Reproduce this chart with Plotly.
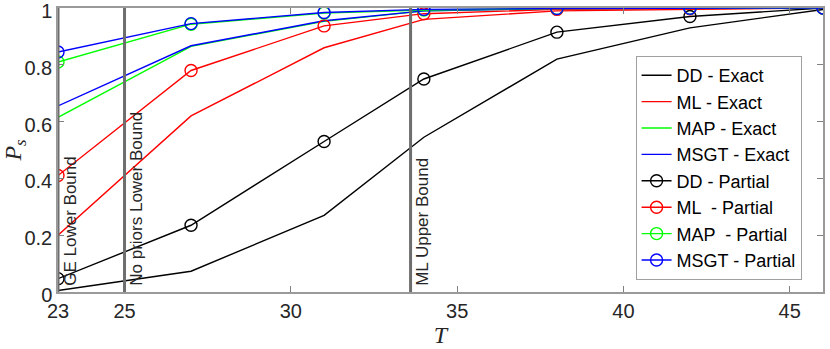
import plotly.graph_objects as go

T = [23, 27, 31, 34, 38, 42, 46]

dd_exact = [0.005, 0.073, 0.27, 0.545, 0.82, 0.93, 0.995]
ml_exact = [0.20, 0.62, 0.86, 0.96, 0.99, 0.995, 1.0]
map_exact = [0.615, 0.865, 0.953, 0.99, 0.998, 0.999, 1.0]
msgt_exact = [0.655, 0.867, 0.955, 0.99, 0.998, 0.999, 1.0]

dd_partial = [0.047, 0.235, 0.53, 0.75, 0.915, 0.97, 1.0]
ml_partial = [0.41, 0.78, 0.937, 0.98, 0.995, 0.997, 1.0]
map_partial = [0.81, 0.943, 0.982, 0.993, 0.998, 0.999, 1.0]
msgt_partial = [0.845, 0.945, 0.984, 0.995, 0.998, 0.999, 1.0]

bound_x = [23, 25, 33.6]
bound_labels = ["GE Lower Bound", "No priors Lower Bound", "ML Upper Bound"]

FONT = "Liberation Sans, Arial, sans-serif"

fig = go.Figure()

exact = [("DD - Exact", dd_exact, "black"), ("ML - Exact", ml_exact, "#ff0000"),
         ("MAP - Exact", map_exact, "#00ff00"), ("MSGT - Exact", msgt_exact, "#0000ff")]
partial = [("DD - Partial", dd_partial, "black"), ("ML  - Partial", ml_partial, "#ff0000"),
           ("MAP  - Partial", map_partial, "#00ff00"), ("MSGT - Partial", msgt_partial, "#0000ff")]

for name, vals, col in exact:
    fig.add_trace(go.Scatter(x=T, y=vals, mode="lines", name=name,
                             line=dict(color=col, width=1.4)))
for name, vals, col in partial:
    fig.add_trace(go.Scatter(x=T, y=vals, mode="lines+markers", name=name,
                             line=dict(color=col, width=1.4),
                             marker=dict(symbol="circle-open", size=12, color=col,
                                         line=dict(width=1.4, color=col))))

# bound lines with rotated labels
for bx, lab in zip(bound_x, bound_labels):
    fig.add_shape(type="line", x0=bx, x1=bx, y0=0, y1=1, xref="x", yref="y",
                  line=dict(color="#6e6e6e", width=3))
    fig.add_annotation(x=bx, y=0.015, xref="x", yref="y", text=lab, showarrow=False,
                       textangle=-90, xanchor="left", yanchor="bottom", xshift=1,
                       font=dict(family=FONT, size=17, color="#262626"))

fig.update_xaxes(range=[23, 46], tickvals=[23, 25, 30, 35, 40, 45],
                 ticks="inside", ticklen=6, tickcolor="#808080",
                 showline=True, linecolor="#9a9a9a", linewidth=1.5, mirror="allticks",
                 showgrid=False, zeroline=False, automargin=False,
                 ticklabeloverflow="allow",
                 tickfont=dict(family=FONT, size=20, color="#262626"),
                 title=dict(text="<i>T</i>", standoff=4,
                            font=dict(family="Liberation Serif, serif", size=24, color="#262626")))
fig.update_yaxes(range=[0, 1], tickvals=[0, 0.2, 0.4, 0.6, 0.8, 1],
                 ticktext=["0", "0.2", "0.4", "0.6", "0.8", "1"],
                 ticks="inside", ticklen=6, tickcolor="#808080",
                 showline=True, linecolor="#9a9a9a", linewidth=1.5, mirror="allticks",
                 showgrid=False, zeroline=False, automargin=False,
                 ticklabeloverflow="allow", ticklabelshift=3,
                 tickfont=dict(family=FONT, size=20, color="#262626"),
                 title=dict(text="<i>P</i><sub><i>s</i></sub>", standoff=14,
                            font=dict(family="Liberation Serif, serif", size=24, color="#262626")))

fig.update_layout(
    width=830, height=349,
    margin=dict(l=58, r=7, t=8, b=57),
    plot_bgcolor="white", paper_bgcolor="white",
    legend=dict(x=0.755, y=0.831, xanchor="left", yanchor="top",
                bgcolor="white", bordercolor="#a0a0a0", borderwidth=1,
                font=dict(family=FONT, size=18, color="black"),
                tracegroupgap=0, itemwidth=30),
    showlegend=True,
)

# drop the default page margin so the figure sits at the window's corner
fig.write_html("out.html", config={"displayModeBar": False},
               post_script="document.body.style.margin='0';")
